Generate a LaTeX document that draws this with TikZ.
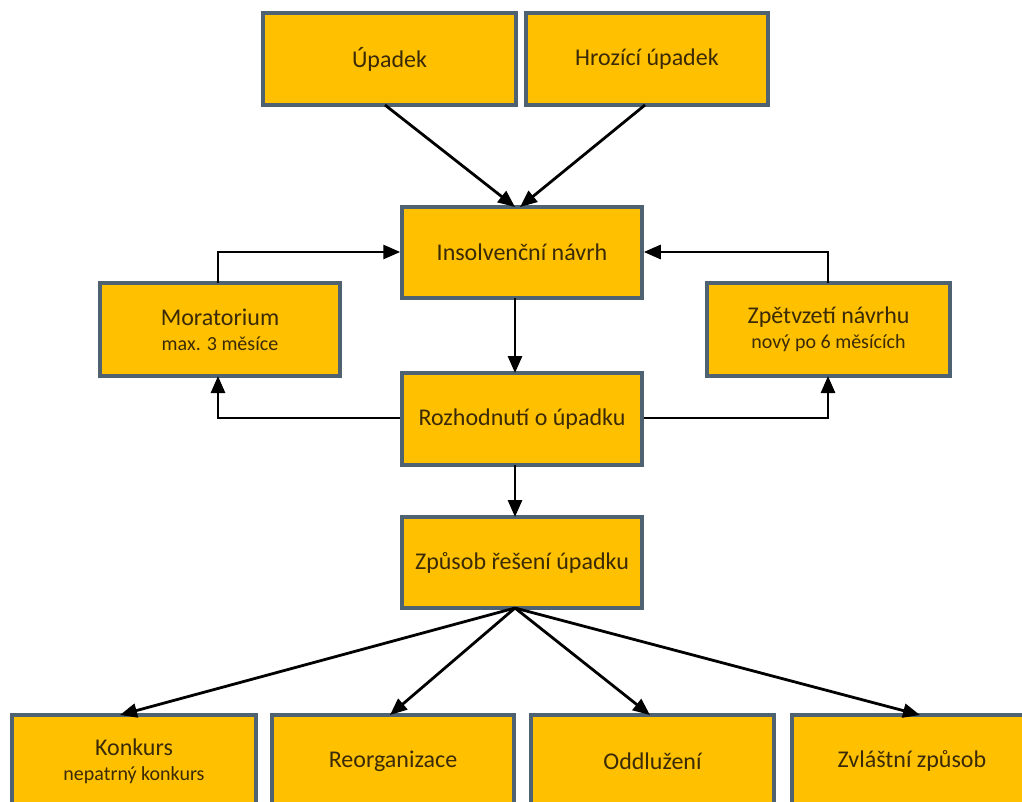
\documentclass[tikz,border=0pt]{standalone}
\usepackage{fontspec}
\setmainfont{Carlito}
\usetikzlibrary{arrows.meta}
\definecolor{boxfill}{HTML}{FFC000}
\definecolor{boxline}{HTML}{4F6272}
\definecolor{boxtext}{HTML}{3A2A05}
\begin{document}
\begin{tikzpicture}[x=1pt,y=-1pt,
  box/.style={draw=boxline,fill=boxfill,line width=3.5pt,text=boxtext,font=\fontsize{24}{27}\selectfont,align=center,inner sep=0pt},
  conn/.style={line width=2.8pt,-{Triangle[length=17pt,width=14pt]}}]
\newcommand{\subtxt}[1]{{\fontsize{20}{22}\selectfont #1}}
\useasboundingbox (0,0) rectangle (1022,801);
\fill[white] (0,0) rectangle (1022,801);
\node[box,minimum width=253pt,minimum height=92pt] (upadek) at (389.5,59) {Úpadek};
\node[box,minimum width=242pt,minimum height=92pt] (hroz) at (647,59) {Hrozící úpadek};
\node[box,minimum width=240pt,minimum height=91pt] (insol) at (522,252.5) {Insolvenční návrh};
\node[box,minimum width=240pt,minimum height=93pt] (morat) at (220,329.5) {Moratorium\\[-2pt]\subtxt{max. 3 měsíce}};
\node[box,minimum width=243pt,minimum height=93pt] (zpet) at (828.5,329.5) {Zpětvzetí návrhu\\[-2pt]\subtxt{nový po 6 měsících}};
\node[box,minimum width=240pt,minimum height=92pt] (rozh) at (522,419) {Rozhodnutí o úpadku};
\node[box,minimum width=240pt,minimum height=91pt] (zpus) at (522,562.5) {Způsob řešení úpadku};
\node[box,minimum width=244pt,minimum height=92pt] (konk) at (134,761) {Konkurs\\[-2pt]\subtxt{nepatrný konkurs}};
\node[box,minimum width=242pt,minimum height=92pt] (reorg) at (393,761) {Reorganizace};
\node[box,minimum width=243pt,minimum height=92pt] (oddl) at (652.5,761) {Oddlužení};
\node[box,minimum width=240pt,minimum height=92pt] (zvl) at (912,761) {Zvláštní způsob};
\draw[conn] (385,105) -- (515,207);
\draw[conn] (645,105) -- (520,207);
\draw[conn] (515,298) -- (515,373);
\draw[conn] (rozh.west |- 0,418) -| (218,376);
\draw[conn] (218,283) |- (insol.west |- 0,252);
\draw[conn] (rozh.east |- 0,418) -| (828,376);
\draw[conn] (828,283) |- (insol.east |- 0,252);
\draw[conn] (515,465) -- (515,517);
\draw[conn] (515,608) -- (120,715);
\draw[conn] (515,608) -- (390,715);
\draw[conn] (515,608) -- (650,715);
\draw[conn] (515,608) -- (920,715);
\end{tikzpicture}
\end{document}
